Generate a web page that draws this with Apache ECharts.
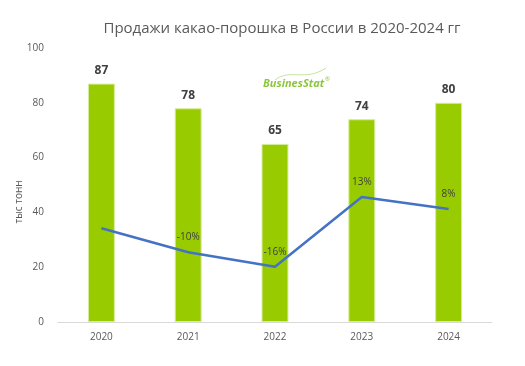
<!DOCTYPE html>
<html><head><meta charset="utf-8">
<script src="https://cdn.jsdelivr.net/npm/echarts@6/dist/echarts.min.js"></script>
<style>html,body{margin:0;padding:0;background:#fff}#c{width:525px;height:366px}</style>
</head><body><div id="c"></div>
<script>
const years = ['2020','2021','2022','2023','2024'];
const sales = [87, 78, 65, 74, 80];
const growth = [0, -10, -16, 13, 8];
const growthLabels = ['', '-10%', '-16%', '13%', '8%'];
const yTicks = [0, 20, 40, 60, 80, 100];

const chart = echarts.init(document.getElementById('c'));
chart.setOption({
  animation: false,
  textStyle: {fontFamily: 'Open Sans'},
  title: {
    text: 'Продажи какао-порошка в России в 2020-2024 гг',
    left: 277, top: 16, textAlign: 'center',
    textStyle: {fontSize: 15, fontWeight: 'normal', color: '#595959', fontFamily: 'Open Sans'}
  },
  grid: {left: 58, right: 33, top: 48, bottom: 44, containLabel: false, outerBoundsMode: 'none'},
  xAxis: {
    type: 'category', data: years,
    axisLine: {lineStyle: {color: '#d9d9d9'}},
    axisTick: {show: false},
    axisLabel: {color: '#595959', fontSize: 10, margin: 10}
  },
  yAxis: [{
    type: 'value', min: yTicks[0], max: yTicks[yTicks.length-1], interval: 20,
    axisLine: {show: false}, axisTick: {show: false}, splitLine: {show: false},
    axisLabel: {color: '#595959', fontSize: 10, margin: 14}
  }, {
    type: 'value', min: -39, max: 75, show: false, splitLine: {show: false}
  }],
  graphic: [{
    type: 'text', x: 19, y: 202, rotation: Math.PI / 2,
    style: {text: 'тыс тонн', fill: '#595959', font: '10px "Open Sans"', align: 'center', verticalAlign: 'middle'}
  }, {
    type: 'bezierCurve', silent: true,
    shape: {x1: 275, y1: 80, x2: 326, y2: 68, cpx1: 290, cpy1: 68, cpx2: 305, cpy2: 82},
    style: {stroke: '#c5e39a', lineWidth: 1, fill: null}
  }, {
    type: 'text', left: 263, top: 78,
    style: {text: 'BusinesStat', fill: '#8cc63f', font: 'italic bold 11px "Open Sans"'}
  }, {
    type: 'text', left: 325, top: 76,
    style: {text: '®', fill: '#8cc63f', font: '6px "Open Sans"'}
  }],
  series: [{
    type: 'bar', data: sales, barWidth: '31%', yAxisIndex: 0,
    itemStyle: {color: '#99cc00', borderColor: '#d6ec99', borderWidth: 1},
    label: {show: true, position: 'top', distance: 7, color: '#404040', fontSize: 12, fontWeight: 'bold'}
  }, {
    type: 'line', data: growth, yAxisIndex: 1, symbol: 'circle', symbolSize: 0, showSymbol: true,
    lineStyle: {color: '#4472c4', width: 2.5}, z: 3,
    label: {show: true, position: 'top', distance: 10, color: '#404040', fontSize: 10,
      formatter: p => growthLabels[p.dataIndex]}
  }]
});
</script></body></html>
